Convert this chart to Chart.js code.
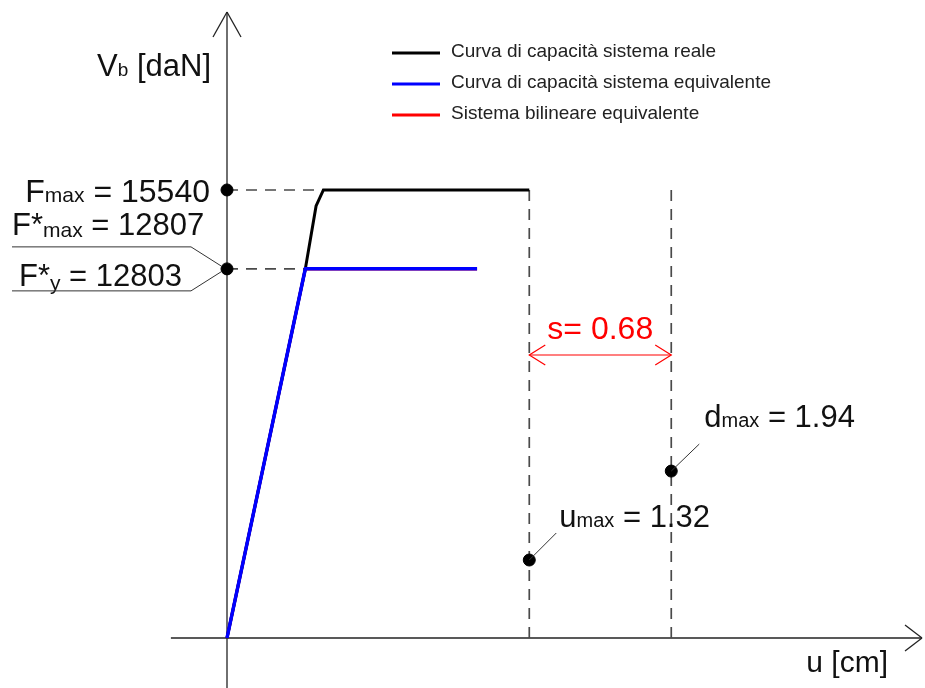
<!DOCTYPE html>
<html>
<head>
<meta charset="utf-8">
<script src="https://cdn.jsdelivr.net/npm/chart.js@4.4.1/dist/chart.umd.min.js"></script>
<style>
  html, body { margin: 0; padding: 0; background: #fff; }
  canvas { display: block; }
</style>
</head>
<body>
<canvas id="capChart" width="925" height="688"></canvas>
<script>
// capacity curves, u in cm, V in daN
var uReal = [0, 0.342, 0.389, 0.421, 1.32];
var vReal = [0, 12803, 14985, 15540, 15540];
var uEquiv = [0, 0.342, 1.092];
var vEquiv = [0, 12807, 12807];
var uBilin = [0, 0.342, 1.092];
var vBilin = [0, 12803, 12803];

var seriesLabels = [
    'Curva di capacità sistema reale',
    'Curva di capacità sistema equivalente',
    'Sistema bilineare equivalente'
];

// characteristic values
var fMax = 15540;
var fStarMax = 12807;
var fStarY = 12803;
var uMax = 1.32;
var dMax = 1.94;
var sValue = 0.68;

// where the u-markers and the s dimension sit on the V axis (schematic)
var uMaxMarkV = 2705;
var dMaxMarkV = 5790;
var sLineV = 9816;
var guideTopV = 15750;

// visible axis extents
var xAxisFrom = -0.245, xAxisTo = 3.035;
var yAxisFrom = -1734, yAxisTo = 21713;

function pts(xs, ys) {
    return xs.map(function (x, i) { return { x: x, y: ys[i] }; });
}

var FONT = '"Liberation Sans", Arial, sans-serif';
var dashGray = '#4a4a4a';

// text made of pieces with different sizes, e.g. F + "max" subscript
function richText(ctx, parts, x, y, align, color) {
    var total = 0;
    parts.forEach(function (p) {
        ctx.font = p[1] + 'px ' + FONT;
        total += ctx.measureText(p[0]).width;
    });
    var cx = align === 'right' ? x - total : (align === 'center' ? x - total / 2 : x);
    ctx.fillStyle = color || '#111';
    ctx.textAlign = 'left';
    ctx.textBaseline = 'alphabetic';
    parts.forEach(function (p) {
        ctx.font = p[1] + 'px ' + FONT;
        ctx.fillText(p[0], cx, y + (p[2] || 0));
        cx += ctx.measureText(p[0]).width;
    });
}

function seg(ctx, x1, y1, x2, y2) {
    ctx.beginPath();
    ctx.moveTo(x1, y1);
    ctx.lineTo(x2, y2);
    ctx.stroke();
}

var axesPlugin = {
    id: 'axesArrows',
    beforeDatasetsDraw: function (chart) {
        var ctx = chart.ctx, sx = chart.scales.x, sy = chart.scales.y;
        var x0 = sx.getPixelForValue(0), y0 = sy.getPixelForValue(0);
        var xl = sx.getPixelForValue(xAxisFrom), xr = sx.getPixelForValue(xAxisTo);
        var yb = sy.getPixelForValue(yAxisFrom), yt = sy.getPixelForValue(yAxisTo);
        ctx.save();
        ctx.strokeStyle = '#222';
        ctx.lineWidth = 1.3;
        seg(ctx, xl, y0, xr, y0);
        seg(ctx, x0, yb, x0, yt);
        // open arrow heads
        seg(ctx, xr, y0, xr - 17, y0 - 13);
        seg(ctx, xr, y0, xr - 17, y0 + 13);
        seg(ctx, x0, yt, x0 - 14, yt + 25);
        seg(ctx, x0, yt, x0 + 14, yt + 25);
        ctx.restore();
    },
    afterDatasetsDraw: function (chart) {
        var ctx = chart.ctx, sx = chart.scales.x, sy = chart.scales.y;
        var x0 = sx.getPixelForValue(0);
        ctx.save();

        // axis titles
        richText(ctx, [['V', 31], ['b', 19], [' [daN]', 31]], x0 - 16, 76, 'right');
        richText(ctx, [['u [cm]', 30]], 888, 672, 'right');

        // force labels on the V axis
        var yF = sy.getPixelForValue(fMax);
        var yFy = sy.getPixelForValue(fStarY);
        richText(ctx, [['F', 32], ['max', 21], [' = ' + fMax, 32]], x0 - 17, yF + 12, 'right');
        richText(ctx, [['F*', 31], ['max', 21, 2], [' = ' + fStarMax, 31]], 12, yFy - 34, 'left');
        richText(ctx, [['F*', 31], ['y', 21, 4], [' = ' + fStarY, 31]], 19, yFy + 17, 'left');
        ctx.strokeStyle = '#333';
        ctx.lineWidth = 1;
        ctx.beginPath();
        ctx.moveTo(12, yFy - 22);
        ctx.lineTo(x0 - 36, yFy - 22);
        ctx.lineTo(x0 - 6, yFy - 3);
        ctx.moveTo(12, yFy + 22);
        ctx.lineTo(x0 - 36, yFy + 22);
        ctx.lineTo(x0 - 6, yFy + 3);
        ctx.stroke();

        // displacement labels with leaders
        var xu = sx.getPixelForValue(uMax), yu = sy.getPixelForValue(uMaxMarkV);
        var xd = sx.getPixelForValue(dMax), yd = sy.getPixelForValue(dMaxMarkV);
        seg(ctx, xu, yu, xu + 27, yu - 27);
        seg(ctx, xd, yd, xd + 28, yd - 27);
        richText(ctx, [['u', 31], ['max', 20], [' = ' + uMax.toFixed(2), 31]], xu + 30, yu - 33, 'left');
        richText(ctx, [['d', 31], ['max', 20], [' = ' + dMax.toFixed(2), 31]], xd + 33, yd - 44, 'left');

        // s dimension arrow heads and value
        var ys = sy.getPixelForValue(sLineV);
        ctx.strokeStyle = '#ff0000';
        ctx.lineWidth = 1.2;
        ctx.beginPath();
        ctx.moveTo(xu + 16, ys - 10); ctx.lineTo(xu, ys); ctx.lineTo(xu + 16, ys + 10);
        ctx.moveTo(xd - 16, ys - 10); ctx.lineTo(xd, ys); ctx.lineTo(xd - 16, ys + 10);
        ctx.stroke();
        richText(ctx, [['s= ' + sValue.toFixed(2), 32]], (xu + xd) / 2, ys - 16, 'center', '#ff0000');

        // legend
        var legendItems = chart.data.datasets.filter(function (d) { return d.inLegend; });
        legendItems.forEach(function (d, i) {
            var ly = 53 + i * 31;
            ctx.strokeStyle = d.borderColor;
            ctx.lineWidth = 3;
            seg(ctx, 392, ly, 440, ly);
            ctx.font = '19px ' + FONT;
            ctx.fillStyle = '#222';
            ctx.textAlign = 'left';
            ctx.textBaseline = 'middle';
            ctx.fillText(d.label, 451, ly - 1);
        });
        ctx.restore();
    }
};

function guide(data) {
    return {
        data: data,
        showLine: true,
        borderColor: dashGray,
        borderWidth: 1.7,
        borderDash: [11, 8],
        pointRadius: 0,
        order: 5
    };
}

new Chart(document.getElementById('capChart'), {
    type: 'scatter',
    data: {
        datasets: [
            {
                label: seriesLabels[0], inLegend: true,
                data: pts(uReal, vReal), showLine: true,
                borderColor: '#000000', borderWidth: 3, pointRadius: 0, order: 2
            },
            {
                label: seriesLabels[1], inLegend: true,
                data: pts(uEquiv, vEquiv), showLine: true,
                borderColor: '#0000ff', borderWidth: 3.5, pointRadius: 0, order: 1
            },
            {
                label: seriesLabels[2], inLegend: true,
                data: pts(uBilin, vBilin), showLine: true,
                borderColor: '#ff0000', borderWidth: 3, pointRadius: 0, order: 3
            },
            guide(pts([0, uReal[3]], [fMax, fMax])),
            guide(pts([0, uBilin[1]], [fStarY, fStarY])),
            guide(pts([uMax, uMax], [0, guideTopV])),
            guide(pts([dMax, dMax], [0, guideTopV])),
            {
                // s dimension line
                data: pts([uMax, dMax], [sLineV, sLineV]), showLine: true,
                borderColor: '#ff0000', borderWidth: 1.2, pointRadius: 0, order: 4
            },
            {
                // characteristic points
                data: pts([0, 0, uMax, dMax], [fMax, fStarY, uMaxMarkV, dMaxMarkV]),
                showLine: false, pointRadius: 6, pointBackgroundColor: '#000',
                pointBorderColor: '#000', order: 0
            }
        ]
    },
    options: {
        responsive: false,
        animation: false,
        events: [],
        layout: { padding: 0, autoPadding: false },
        plugins: { legend: { display: false }, tooltip: { enabled: false } },
        scales: {
            x: { type: 'linear', display: false, min: -227 / 229, max: 698 / 229 },
            y: { type: 'linear', display: false, min: -50 / 0.02883, max: 638 / 0.02883 }
        }
    },
    plugins: [axesPlugin]
});
</script>
</body>
</html>
